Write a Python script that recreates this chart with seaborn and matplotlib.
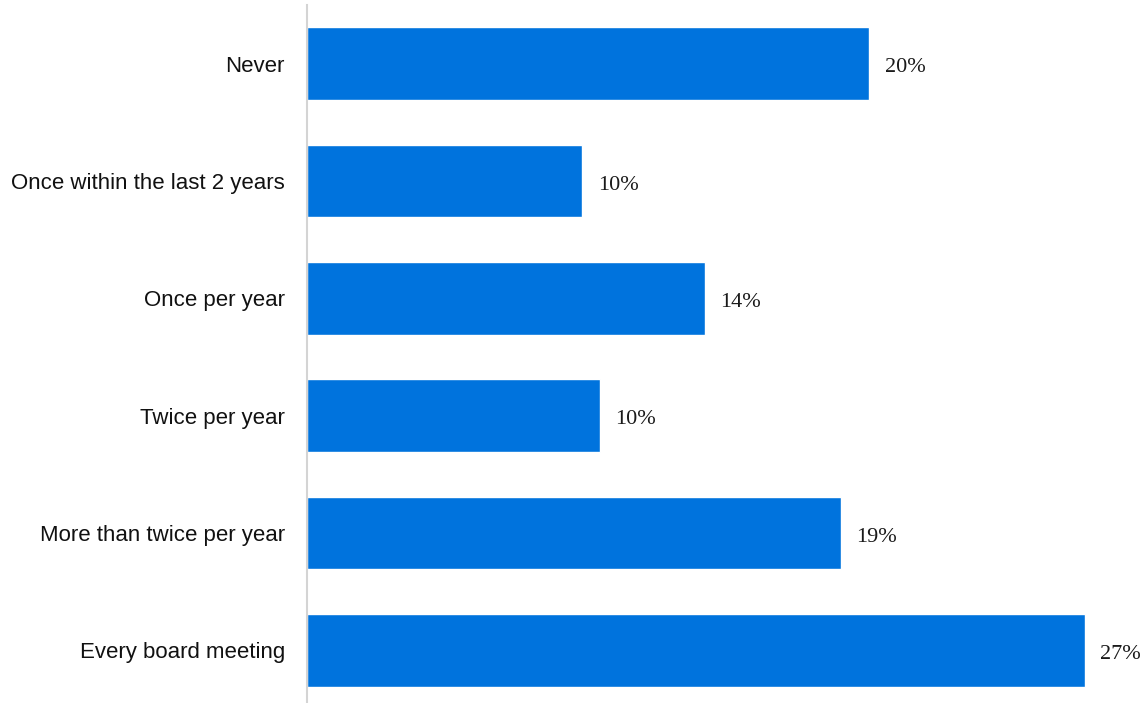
import matplotlib
matplotlib.use("Agg")
import matplotlib.pyplot as plt
import seaborn as sns
import pandas as pd

categories = [
    "Never",
    "Once within the last 2 years",
    "Once per year",
    "Twice per year",
    "More than twice per year",
    "Every board meeting",
]
shares = [19.8, 9.7, 14.0, 10.3, 18.8, 27.4]

df = pd.DataFrame({"frequency": categories, "share": shares})

sns.set_theme(style="white")
plt.rcParams["font.family"] = ["Liberation Sans", "DejaVu Sans"]

W, H = 1140, 703
fig = plt.figure(figsize=(W / 100, H / 100), dpi=100)
ax = fig.add_axes([307 / W, 0.0, 1 - 307 / W, (H - 5) / H])

sns.barplot(data=df, x="share", y="frequency", order=categories,
            color="#0073DD", saturation=1, width=0.62, ax=ax)

ax.set_xlim(0, (W - 307) / 28.4)
ax.set_ylim(5.5 - 6 / 117.4, -0.5)

for i, v in enumerate(shares):
    ax.annotate(f"{v:.0f}%", xy=(v, i), xytext=(11, -3), textcoords="offset points",
                ha="left", va="center", fontsize=16, color="#1a1a1a",
                family=["Liberation Serif", "DejaVu Serif"])

ax.set_xlabel("")
ax.set_ylabel("")
ax.set_xticks([])
ax.tick_params(axis="y", length=0, pad=16, labelsize=16, labelcolor="#111111")
for side in ["top", "right", "bottom"]:
    ax.spines[side].set_visible(False)
ax.spines["left"].set_color("#d4d4d4")
ax.spines["left"].set_linewidth(1.5)

fig.savefig("out.png", dpi=100)
